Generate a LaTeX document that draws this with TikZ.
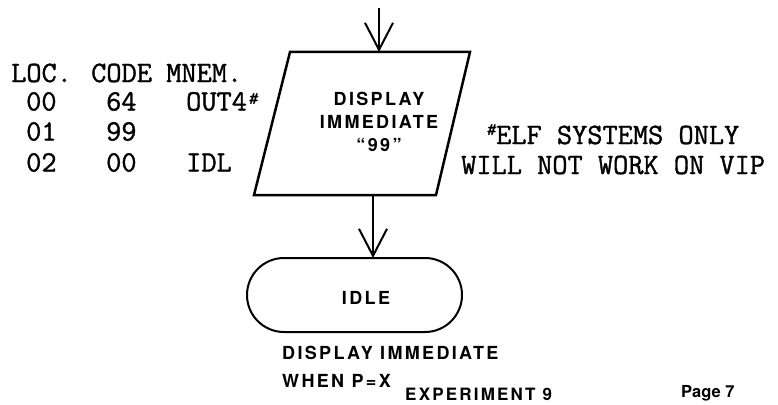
\documentclass[tikz,border=0pt]{standalone}
\usepackage{fontspec}
\usetikzlibrary{arrows.meta,shapes.misc}
\newfontfamily\hvsp{TeX Gyre Heros}[LetterSpace=13]
\newfontfamily\hvpl{TeX Gyre Heros}
\newfontfamily\twb{Latin Modern Mono}[FakeBold=1.2]
\newfontfamily\twbs{Latin Modern Mono Slanted}[FakeBold=1]
\begin{document}
\begin{tikzpicture}[x=1pt,y=1pt,
  tw/.style={font=\fontsize{29.5}{30}\selectfont\twb, inner sep=0pt, anchor=base west},
  sup/.style={font=\fontsize{18}{18}\selectfont\twbs, inner sep=0pt, anchor=base west},
  sans/.style={font=\fontsize{18}{23}\selectfont\hvsp\bfseries, inner sep=0pt},
  conn/.style={line width=2pt, -{Straight Barb[length=27pt,width=28pt]}}
]
\useasboundingbox (0,0) rectangle (778,-404);
% table
\node[tw] (hloc)  at (11,-82) {LOC.};
\node[tw] (hcode) at (91,-82) {CODE};
\node[tw] (hmnem) at (166,-82) {MNEM.};
\node[tw] (a0) at (26,-110.5) {00};
\node[tw] (c0) at (106,-110.5) {64};
\node[tw] (m0) at (186,-110.5) {OUT4};
\node[sup] (s0) at (248,-104) {\#};
\node[tw] (a1) at (26,-140.5) {01};
\node[tw] (c1) at (106,-140.5) {99};
\node[tw] (a2) at (26,-171.5) {02};
\node[tw] (c2) at (106,-171.5) {00};
\node[tw] (m2) at (186,-171.5) {IDL};
% note
\node[sup] (s1) at (486,-135) {\#};
\node[tw] (n1) at (496,-144) {ELF SYSTEMS ONLY};
\node[tw] (n2) at (461,-174) {WILL NOT WORK ON VIP};
% parallelogram
\draw[line width=2.5pt, line join=miter] (254,-195) -- (290,-52) -- (470,-52) -- (436,-195) -- cycle;
\coordinate (start) at (379,-8);
\coordinate (ptop) at (379,-52);
\coordinate (pbot) at (373,-195);
\node[sans, align=center] (disp) at (379,-122) {DISPLAY\\IMMEDIATE\\“99”};
% terminal
\node[draw, line width=2pt, rounded rectangle, minimum width=215pt, minimum height=74pt, inner sep=0pt] (idle) at (354.5,-295) {};
\node[sans] (idletxt) at (366,-298) {IDLE};
\coordinate (itop) at (373,-258);
% connectors
\draw[conn] (start) -- (ptop);
\draw[conn] (pbot) -- (itop);
% captions
\node[sans, anchor=base west] (cap1) at (282,-359.5) {DISPLAY IMMEDIATE};
\node[sans, anchor=base west] (cap2) at (282,-387.5) {WHEN P=X};
\node[sans, anchor=base west, font=\fontsize{17}{17}\selectfont\hvsp\bfseries] (exp) at (405,-400) {EXPERIMENT 9};
\node[anchor=base west, inner sep=0pt, font=\fontsize{16.5}{17}\selectfont\hvpl\bfseries] (page) at (681,-397) {Page 7};
\end{tikzpicture}
\end{document}
